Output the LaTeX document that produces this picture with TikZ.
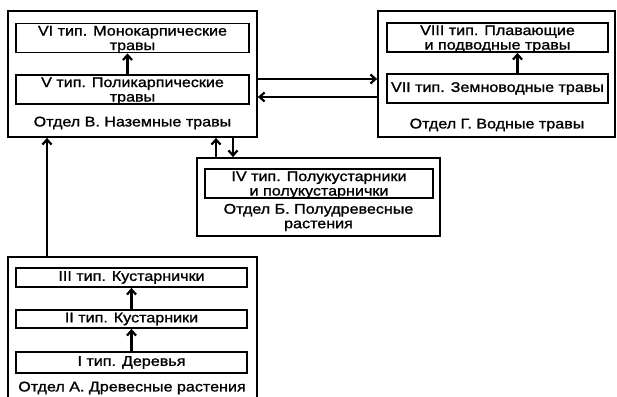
\documentclass[tikz,border=0pt]{standalone}
\usepackage{fontspec}
\setmainfont{Liberation Sans}[FakeStretch=1.15, FakeBold=1.2]
\usetikzlibrary{arrows.meta}

\begin{document}
\begin{tikzpicture}[x=1pt, y=-1pt, line width=1.8pt, >={Straight Barb[length=5pt, width=9pt]},
    every node/.style={font=\fontsize{14}{14.5}\selectfont, align=center, inner sep=0pt},
    otdel/.style={draw, minimum width=#1, minimum height=126pt},
    tip/.style={draw, minimum width=#1, minimum height=29pt},
    dva/.style={text depth=-2pt},
    svyaz/.style={->, line width=2.2pt}]
    \useasboundingbox (0,0) rectangle (617,396);

    % Отдел В
    \node[otdel=249pt] (b) at (132.5,74) {};
    \node[tip=233pt, dva] (b6) at (132.5,38) {VI тип. Монокарпические\\травы};
    \node[tip=233pt, dva] (b5) at (132.5,89.5) {V тип. Поликарпические\\травы};
    \node (lb) at (132.5,123) {Отдел В. Наземные травы};
    \draw[svyaz] ([xshift=-5pt]b5.north) -- ([xshift=-5pt]b6.south);

    % Отдел Г
    \node[otdel=237pt] (g) at (496.5,74) {};
    \node[tip=221pt, dva] (g8) at (497.5,37.5) {VIII тип. Плавающие\\и подводные травы};
    \node[tip=221pt] (g7) at (497.5,88.5) {VII тип. Земноводные травы};
    \node (lg) at (497,125) {Отдел Г. Водные травы};
    \draw[svyaz] ([xshift=20pt]g7.north) -- ([xshift=20pt]g8.south);

    % Отдел Б
    \node[otdel=243pt, minimum height=78pt] (p) at (318.5,197) {};
    \node[tip=228pt, dva] (p4) at (319,183.5) {IV тип. Полукустарники\\и полукустарнички};
    \node (lp) at (318.5,217.5) {Отдел Б. Полудревесные\\растения};

    % Отдел А
    \node[otdel=249pt, minimum height=141pt] (a) at (132.5,327.5) {};
    \node[tip=231pt, minimum height=19pt] (a3) at (131.5,277.5) {III тип. Кустарнички};
    \node[tip=231pt, minimum height=18pt] (a2) at (131.5,319) {II тип. Кустарники};
    \node[tip=231pt, minimum height=21pt] (a1) at (131.5,362.5) {I тип. Деревья};
    \node (la) at (132,388) {Отдел А. Древесные растения};
    \foreach \x in {1,2}
        \draw[svyaz] (a\x) -- (a\the\numexpr\x+1\relax);

    % связи между отделами
    \draw[svyaz] ([yshift=-5pt]b.east) -- ([yshift=-5pt]g.west);
    \draw[svyaz] ([yshift=-23pt]g.west) -- ([yshift=-23pt]b.east);
    \draw[svyaz] ([xshift=-85.5pt]a.north) -- ([xshift=-85.5pt]b.south);
    \draw[svyaz] ([xshift=-102.5pt]p.north) -- ([xshift=-102.5pt]b.south -| p.north);
    \draw[svyaz] ([xshift=-85.5pt]b.south -| p.north) -- ([xshift=-85.5pt]p.north);
\end{tikzpicture}
\end{document}
